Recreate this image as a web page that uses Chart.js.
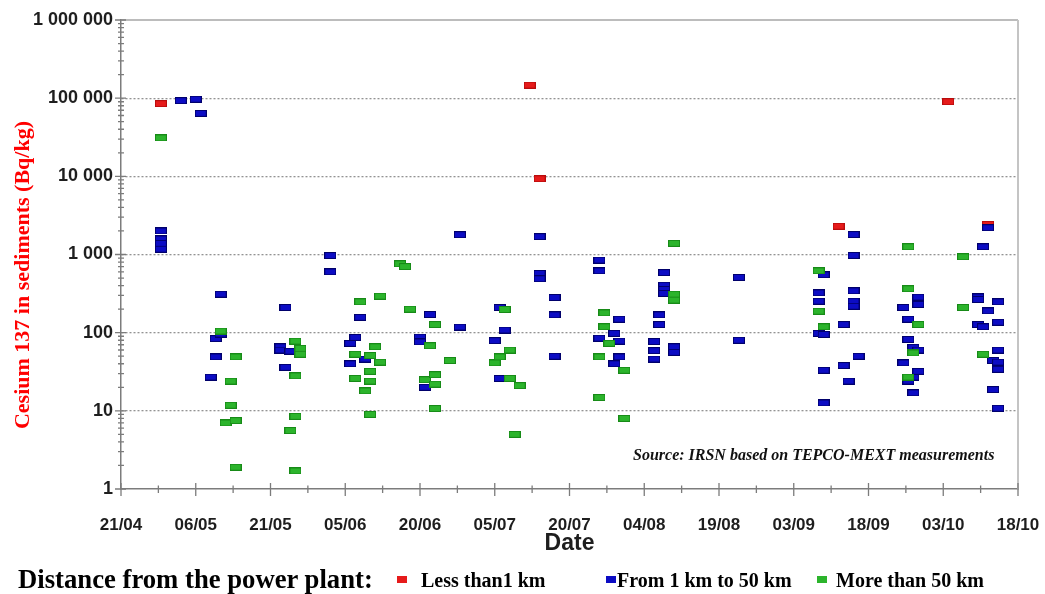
<!DOCTYPE html>
<html>
<head>
<meta charset="utf-8">
<title>Cesium 137 in sediments</title>
<script src="https://cdn.jsdelivr.net/npm/chart.js@4.4.1/dist/chart.umd.min.js"></script>
<style>
  html, body { margin: 0; padding: 0; background: #ffffff; }
  #wrap { position: relative; width: 1045px; height: 594px; overflow: hidden; background: #ffffff; }
  #chart { position: absolute; left: 0; top: 0; }
  #ytitle {
    position: absolute; left: -177px; top: 261px; width: 400px; height: 28px;
    line-height: 28px; text-align: center; white-space: nowrap;
    transform: rotate(-90deg); transform-origin: 50% 50%;
    font: bold 22px 'Liberation Serif', 'Times New Roman', serif; color: #ff0000;
  }
  #source {
    position: absolute; left: 633px; top: 446px; line-height: 19px; white-space: nowrap;
    font: italic bold 16px 'Liberation Serif', 'Times New Roman', serif; color: #111111;
  }
  #legend-title {
    position: absolute; left: 18px; top: 564px; line-height: 30px; white-space: nowrap;
    font: bold 26.7px 'Liberation Serif', 'Times New Roman', serif; color: #000000;
  }
  .item {
    position: absolute; top: 569px; line-height: 22px; white-space: nowrap;
    font: bold 20px 'Liberation Serif', 'Times New Roman', serif; color: #000000;
  }
  .item .sw { position: absolute; top: 7px; width: 10px; height: 7px; }
</style>
</head>
<body>
<div id="wrap">
  <canvas id="chart" width="1045" height="594"></canvas>
  <div id="ytitle">Cesium 137 in sediments (Bq/kg)</div>
  <div id="source">Source: IRSN based on TEPCO-MEXT measurements</div>
  <div id="legend-title">Distance from the power plant:</div>
  <div id="legend"></div>
</div>
<script>
// Sampling dates are day/month of 2011; the axis counts days from 21 April.
const YEAR = 2011;
const FIRST_DAY = '21/04';
const X_TICK_STEP = 15;
const X_TICK_LABELS = ['21/04', '06/05', '21/05', '05/06', '20/06', '05/07', '20/07',
                       '04/08', '19/08', '03/09', '18/09', '03/10', '18/10'];
const Y_TICK_VALUES = [1, 10, 100, 1000, 10000, 100000, 1000000];

const SERIES_LABELS = ['Less than1 km', 'From 1 km to 50 km', 'More than 50 km'];

// Less than 1 km
const NEAR_DATES  = ['29/04', '12/07', '14/07', '12/09', '04/10', '12/10'];
const NEAR_VALUES = [85000, 147000, 9300, 2300, 90000, 2430];

// From 1 km to 50 km
const MID_DATES = [
  '29/04', '29/04', '29/04', '29/04', '03/05', '06/05', '07/05',
  '09/05', '10/05', '10/05', '11/05', '11/05',
  '23/05', '23/05', '24/05', '24/05', '25/05',
  '02/06', '02/06', '06/06', '06/06', '07/06', '08/06', '09/06',
  '20/06', '20/06', '21/06', '22/06', '28/06', '28/06',
  '05/07', '05/07', '06/07', '06/07', '07/07',
  '14/07', '14/07', '14/07', '17/07', '17/07', '17/07',
  '26/07', '26/07', '26/07', '29/07', '29/07', '30/07', '30/07', '30/07',
  '06/08', '06/08', '06/08', '07/08', '07/08',
  '08/08', '08/08', '08/08', '08/08', '10/08', '10/08', '23/08', '23/08',
  '08/09', '08/09', '08/09', '09/09', '09/09', '09/09', '09/09',
  '13/09', '13/09', '14/09', '15/09', '15/09', '15/09', '15/09', '15/09', '16/09',
  '25/09', '25/09', '26/09', '26/09', '26/09', '27/09', '27/09', '27/09',
  '28/09', '28/09', '28/09', '28/09',
  '10/10', '10/10', '10/10', '11/10', '11/10', '12/10', '12/10', '13/10', '13/10',
  '14/10', '14/10', '14/10', '14/10', '14/10', '14/10'
];
const MID_VALUES = [
  2000, 1580, 1390, 1170, 93000, 97000, 64000,
  27, 84, 49, 311, 96,
  66, 60, 210, 36, 58,
  970, 600, 73, 40, 87, 157, 46,
  88, 76, 20, 171, 1790, 118,
  79, 42, 210, 26, 108,
  1690, 573, 489, 282, 169, 50,
  848, 618, 85, 98, 40, 149, 78, 49,
  77, 59, 46, 169, 127,
  587, 405, 357, 318, 66, 56, 509, 80,
  323, 253, 98, 550, 95, 33, 12.6,
  127, 38, 24, 1800, 973, 343, 253, 218, 50,
  210, 41, 149, 82, 24, 65, 27, 17,
  285, 230, 60, 32,
  287, 266, 127, 1255, 119, 2200, 190, 44, 18.7,
  248, 136, 60, 42, 34, 10.8
];

// More than 50 km
const FAR_DATES = [
  '29/04', '11/05', '12/05', '13/05', '13/05', '14/05', '14/05', '14/05',
  '25/05', '26/05', '26/05', '26/05', '26/05', '27/05', '27/05',
  '07/06', '07/06', '08/06', '09/06', '10/06', '10/06', '10/06', '10/06',
  '11/06', '12/06', '12/06', '16/06', '17/06', '18/06',
  '21/06', '22/06', '23/06', '23/06', '23/06', '23/06', '26/06',
  '05/07', '06/07', '07/07', '08/07', '08/07', '09/07', '10/07',
  '26/07', '26/07', '27/07', '27/07', '28/07', '31/07', '31/07',
  '10/08', '10/08', '10/08',
  '08/09', '08/09', '09/09',
  '26/09', '26/09', '26/09', '27/09', '28/09',
  '07/10', '07/10', '11/10'
];
const FAR_VALUES = [
  31000, 105, 7.0, 24, 11.8, 49, 7.5, 1.9,
  5.6, 78, 28, 8.5, 1.7, 63, 53,
  53, 26, 248, 18, 51, 32, 24, 9.0,
  66, 293, 42, 760, 700, 200,
  25, 68, 127, 29, 22, 10.7, 44,
  41, 49, 198, 60, 26, 5.0, 21,
  49, 14.8, 179, 119, 73, 33, 8.0,
  1390, 311, 261,
  618, 188, 119,
  1255, 364, 27, 55, 127,
  935, 210, 53
];

const SERIES_COLORS = [
  { fill: '#e61b1b', edge: '#b80c0c' },
  { fill: '#0c0cc4', edge: '#00006b' },
  { fill: '#2cb42c', edge: '#178a17' }
];

function dateOf(ddmm) {
  const [d, m] = ddmm.split('/').map(Number);
  return Date.UTC(YEAR, m - 1, d);
}
const ORIGIN = dateOf(FIRST_DAY);
const dayIndex = ddmm => (dateOf(ddmm) - ORIGIN) / 86400000;
const toPoints = (dates, values) => dates.map((s, i) => ({ x: dayIndex(s), y: values[i] }));

// small filled rectangle with a darker rim, used as the point glyph
function marker(fill, edge) {
  const c = document.createElement('canvas');
  c.width = 12; c.height = 7;
  const g = c.getContext('2d');
  g.fillStyle = edge; g.fillRect(0, 0, 12, 7);
  g.fillStyle = fill; g.fillRect(1, 1, 10, 5);
  return c;
}

function spaced(v) {
  return String(Math.round(v)).replace(/\B(?=(\d{3})+(?!\d))/g, ' ');
}

// crossing tick marks on both axes plus the top/right frame
const axisMarks = {
  id: 'axisMarks',
  beforeDatasetsDraw(chart) {
    const { ctx, chartArea: a, scales: { x, y } } = chart;
    ctx.save();
    ctx.strokeStyle = '#a6a6a6';
    ctx.lineWidth = 1.5;
    ctx.beginPath();
    ctx.moveTo(a.left, a.top); ctx.lineTo(a.right, a.top);
    ctx.stroke();
    ctx.strokeStyle = '#c4c4c4';
    ctx.lineWidth = 2;
    ctx.beginPath();
    ctx.moveTo(a.right, a.top); ctx.lineTo(a.right, a.bottom);
    ctx.stroke();

    ctx.strokeStyle = '#7c7c7c';
    ctx.lineWidth = 1.3;
    const seg = (x1, y1, x2, y2) => { ctx.moveTo(x1, y1); ctx.lineTo(x2, y2); };
    ctx.beginPath();
    Y_TICK_VALUES.forEach((v, i) => {
      const py = y.getPixelForValue(v);
      seg(a.left - 6, py, a.left + 5, py);
      if (i < Y_TICK_VALUES.length - 1) {
        for (let k = 2; k <= 9; k++) {
          const pm = y.getPixelForValue(v * k);
          seg(a.left - 3, pm, a.left + 3, pm);
        }
      }
    });
    X_TICK_LABELS.forEach((_, i) => {
      const px = x.getPixelForValue(i * X_TICK_STEP);
      seg(px, a.bottom - 6, px, a.bottom + 7);
      if (i < X_TICK_LABELS.length - 1) {
        const pm = x.getPixelForValue(i * X_TICK_STEP + X_TICK_STEP / 2);
        seg(pm, a.bottom - 3.5, pm, a.bottom + 4);
      }
    });
    ctx.stroke();
    ctx.restore();
  }
};

const seriesData = [
  toPoints(NEAR_DATES, NEAR_VALUES),
  toPoints(MID_DATES, MID_VALUES),
  toPoints(FAR_DATES, FAR_VALUES)
];

const datasets = SERIES_LABELS.map((label, i) => ({
  label,
  data: seriesData[i],
  pointStyle: marker(SERIES_COLORS[i].fill, SERIES_COLORS[i].edge),
  pointRadius: 5,
  pointHoverRadius: 5,
  showLine: false,
  order: 2 - i
}));

const tickFont = { family: "'Liberation Sans', Arial, sans-serif", weight: 'bold' };

new Chart(document.getElementById('chart'), {
  type: 'scatter',
  data: { datasets },
  options: {
    responsive: false,
    animation: false,
    events: [],
    layout: { padding: { top: 20, right: 27, left: 0, bottom: 0 } },
    plugins: { legend: { display: false }, tooltip: { enabled: false } },
    scales: {
      x: {
        type: 'linear',
        min: 0,
        max: (X_TICK_LABELS.length - 1) * X_TICK_STEP,
        afterBuildTicks: s => { s.ticks = X_TICK_LABELS.map((_, i) => ({ value: i * X_TICK_STEP })); },
        afterFit: s => { s.height = 105; s.paddingLeft = 0; s.paddingRight = 0; },
        ticks: {
          autoSkip: false, maxRotation: 0, padding: 18, color: '#1e1e1e',
          font: Object.assign({ size: 17 }, tickFont),
          callback: v => X_TICK_LABELS[Math.round(v / X_TICK_STEP)]
        },
        grid: { display: false },
        border: { display: true, color: '#7c7c7c', width: 1.5 },
        title: {
          display: true, text: 'Date', color: '#1e1e1e',
          font: Object.assign({ size: 23 }, tickFont),
          padding: { top: 0, bottom: 37 }
        }
      },
      y: {
        type: 'logarithmic',
        min: Y_TICK_VALUES[0],
        max: Y_TICK_VALUES[Y_TICK_VALUES.length - 1],
        afterBuildTicks: s => { s.ticks = Y_TICK_VALUES.map(v => ({ value: v })); },
        afterFit: s => { s.width = 121; s.paddingTop = 0; s.paddingBottom = 0; },
        ticks: {
          autoSkip: false, padding: 8, color: '#1e1e1e',
          font: Object.assign({ size: 18 }, tickFont),
          callback: v => spaced(v)
        },
        grid: {
          drawTicks: false,
          lineWidth: 1.3,
          color: c => (c.tick && c.tick.value > 1 && c.tick.value < 1000000) ? '#939393' : 'rgba(0,0,0,0)'
        },
        border: { display: true, color: '#7c7c7c', width: 1.5, dash: [2, 2] }
      }
    }
  },
  plugins: [axisMarks]
});

// legend row built from the series names and colours
const itemLeft = [397, 606, 817];
const textLeft = [421, 617, 836];
const legend = document.getElementById('legend');
SERIES_LABELS.forEach((label, i) => {
  const item = document.createElement('div');
  item.className = 'item';
  item.style.left = textLeft[i] + 'px';
  const sw = document.createElement('span');
  sw.className = 'sw';
  sw.style.left = (itemLeft[i] - textLeft[i]) + 'px';
  sw.style.background = SERIES_COLORS[i].fill;
  item.appendChild(sw);
  item.appendChild(document.createTextNode(label));
  legend.appendChild(item);
});
</script>
</body>
</html>
